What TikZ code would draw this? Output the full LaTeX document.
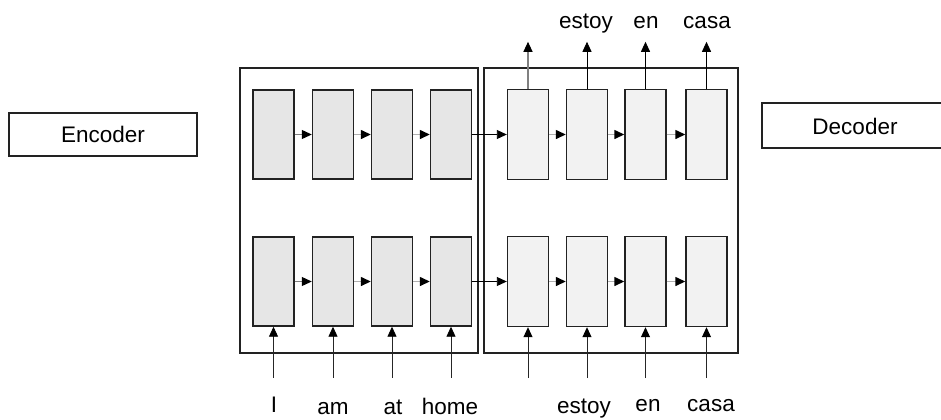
\documentclass[tikz,border=0pt]{standalone}
\usepackage{fontspec}
\setmainfont{Liberation Sans}
\usetikzlibrary{arrows.meta,calc}
\definecolor{encfill}{HTML}{E6E6E6}
\definecolor{decfill}{HTML}{F2F2F2}
\definecolor{edge}{HTML}{222222}
\definecolor{midgray}{HTML}{808080}
\definecolor{lightgray}{HTML}{B0B0B0}
\begin{document}
\begin{tikzpicture}[x=1bp,y=-1bp,
  every node/.style={font=\fontsize{22.5bp}{27bp}\selectfont},
  bigbox/.style={draw=edge,line width=1.4bp,inner sep=0pt,minimum height=285bp},
  enccell/.style={draw=edge,line width=1.4bp,fill=encfill,inner sep=0pt,minimum width=41bp,minimum height=89bp},
  deccell/.style={draw=edge,line width=1.4bp,fill=decfill,inner sep=0pt,minimum width=41bp,minimum height=90bp},
  tip/.style={-{Triangle[length=10bp,width=9bp,color=black]}},
  blk/.style={tip,draw=black,line width=0.9bp},
  mid/.style={tip,draw=midgray,line width=1.1bp},
  lgt/.style={tip,draw=lightgray,line width=1.4bp},
  inarr/.style={tip,draw=black!85,line width=0.9bp},
  word/.style={anchor=base,inner sep=0pt}
]
\useasboundingbox (0,0) rectangle (941,419);

% big boxes
\node[bigbox,minimum width=238bp] (encbig) at (359,210.5) {};
\node[bigbox,minimum width=254bp] (decbig) at (611,210.5) {};

% label boxes
\node[draw=edge,line width=1.2bp,minimum width=188bp,minimum height=43bp,inner sep=0pt] (enclabel) at (103,134.5) {Encoder};
\node[inner sep=0pt] (declabel) at (855,126) {Decoder};
\draw[edge,line width=1.2bp] (950,103) -- (762,103) -- (762,148) -- (950,148);

% encoder cells
\foreach \i/\x in {1/273.5,2/333,3/392,4/451}{
  \node[enccell] (e1\i) at (\x,134.5) {};
  \node[enccell] (e2\i) at (\x,281.5) {};
}
% decoder cells
\foreach \i/\x in {1/528,2/587,3/645.5,4/706.5}{
  \node[deccell] (d1\i) at (\x,134.5) {};
  \node[deccell] (d2\i) at (\x,281.5) {};
}

% horizontal arrows
\foreach \r in {1,2}{
  \draw[mid] (e\r1.east) -- (e\r2.west);
  \draw[lgt] (e\r2.east) -- (e\r3.west);
  \draw[lgt] (e\r3.east) -- (e\r4.west);
  \draw[blk] (e\r4.east) -- (d\r1.west);
  \draw[lgt] (d\r1.east) -- (d\r2.west);
  \draw[lgt] (d\r2.east) -- (d\r3.west);
  \draw[lgt] (d\r3.east) -- (d\r4.west);
}

% output arrows
\foreach \i in {1,2,3,4}{
  \coordinate (o\i) at ($(d1\i.north)+(0,-47)$);
}
\draw[mid] (d11.north) -- (o1);
\draw[blk] (d12.north) -- (o2);
\draw[blk] (d13.north) -- (o3);
\draw[blk] (d14.north) -- (o4);

% top words
\node[word] (t2) at (586,28) {estoy};
\node[word] (t3) at (646,28) {en};
\node[word] (t4) at (707,28) {casa};

% input arrows
\foreach \c in {e21,e22,e23,e24,d21,d22,d23,d24}{
  \coordinate (in\c) at ($(\c.south)+(0,51)$);
  \draw[inarr] (in\c) -- (\c.south);
}

% bottom words
\node[word] (w1) at (274,412) {I};
\node[word] (w2) at (333,414) {am};
\node[word] (w3) at (393,414) {at};
\node[word] (w4) at (450,414) {home};
\node[word] (w5) at (584,413) {estoy};
\node[word] (w6) at (648,411) {en};
\node[word] (w7) at (711,411) {casa};
\end{tikzpicture}
\end{document}
